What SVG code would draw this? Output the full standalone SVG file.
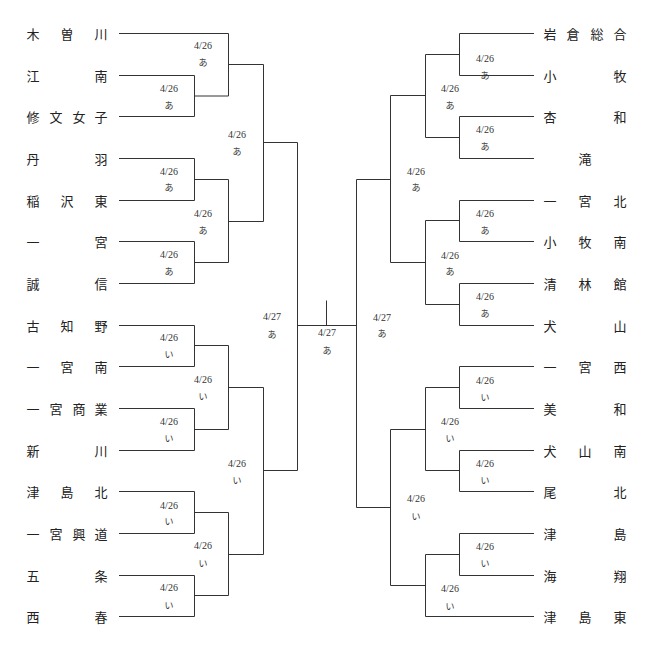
<svg xmlns="http://www.w3.org/2000/svg" width="654" height="651" viewBox="0 0 654 651">
<style>
.ln{fill:none;stroke:#333;stroke-width:1}
.t{font-family:"Noto Sans CJK JP","Liberation Serif",serif;font-size:13px;fill:#222;text-anchor:middle;dominant-baseline:central}
.d{font-family:"Liberation Serif",serif;font-size:10px;fill:#333;text-anchor:middle;dominant-baseline:central}
.k{font-family:"Noto Sans CJK JP",sans-serif;font-size:9px;fill:#333;text-anchor:middle;dominant-baseline:central}
</style>
<rect width="654" height="651" fill="#fff"/>
<g id="connectors" class="ln">
<path d="M119 33.5H228.5"/>
<path d="M119 75.5H194.5V116.5H119M194.5 96H228.5"/>
<path d="M228.5 33.5V96M228.5 64.5H263.5"/>
<path d="M119 158.5H194.5V200.5H119M194.5 179.5H228.5"/>
<path d="M119 241.5H194.5V283.5H119M194.5 262.5H228.5"/>
<path d="M228.5 179.5V262.5M228.5 221.5H263.5"/>
<path d="M263.5 64.5V221.5M263.5 142.5H297.5"/>
<path d="M119 325.5H194.5V366.5H119M194.5 345.5H228.5"/>
<path d="M119 408.5H194.5V450.5H119M194.5 429.5H228.5"/>
<path d="M228.5 345.5V429.5M228.5 387.5H263.5"/>
<path d="M119 491.5H194.5V533.5H119M194.5 512.5H228.5"/>
<path d="M119 575.5H194.5V616.5H119M194.5 595.5H228.5"/>
<path d="M228.5 512.5V595.5M228.5 554.5H263.5"/>
<path d="M263.5 387.5V554.5M263.5 470.5H297.5"/>
<path d="M297.5 142.5V470.5"/>
<path d="M297.5 325.5H356.5M326.5 300.5V325.5"/>
<path d="M534 33.5H459.5V75.5H534M459.5 54.5H425.5"/>
<path d="M534 116.5H459.5V158.5H534M459.5 137.5H425.5"/>
<path d="M425.5 54.5V137.5M425.5 95.5H390.5"/>
<path d="M534 200.5H459.5V241.5H534M459.5 220.5H425.5"/>
<path d="M534 283.5H459.5V325.5H534M459.5 304.5H425.5"/>
<path d="M425.5 220.5V304.5M425.5 262.5H390.5"/>
<path d="M390.5 95.5V262.5M390.5 179.5H356.5"/>
<path d="M534 366.5H459.5V408.5H534M459.5 387.5H425.5"/>
<path d="M534 450.5H459.5V491.5H534M459.5 470.5H425.5"/>
<path d="M425.5 387.5V470.5M425.5 429.5H390.5"/>
<path d="M534 533.5H459.5V575.5H534M459.5 554.5H425.5"/>
<path d="M534 616.5H425.5"/>
<path d="M425.5 554.5V616.5M425.5 585.5H390.5"/>
<path d="M390.5 429.5V585.5M390.5 507.5H356.5"/>
<path d="M356.5 179.5V507.5"/>
</g>
<g id="left-teams">
<g id="L01"><text class="t" x="33 67 101" y="33.5">木曽川</text></g>
<g id="L02"><text class="t" x="33 101" y="75.5">江南</text></g>
<g id="L03"><text class="t" x="33 56 79 101" y="116.5">修文女子</text></g>
<g id="L04"><text class="t" x="33 101" y="158.5">丹羽</text></g>
<g id="L05"><text class="t" x="33 67 101" y="200.5">稲沢東</text></g>
<g id="L06"><text class="t" x="33 101" y="241.5">一宮</text></g>
<g id="L07"><text class="t" x="33 101" y="283.5">誠信</text></g>
<g id="L08"><text class="t" x="33 67 101" y="325.5">古知野</text></g>
<g id="L09"><text class="t" x="33 67 101" y="366.5">一宮南</text></g>
<g id="L10"><text class="t" x="33 56 79 101" y="408.5">一宮商業</text></g>
<g id="L11"><text class="t" x="33 101" y="450.5">新川</text></g>
<g id="L12"><text class="t" x="33 67 101" y="491.5">津島北</text></g>
<g id="L13"><text class="t" x="33 56 79 101" y="533.5">一宮興道</text></g>
<g id="L14"><text class="t" x="33 101" y="575.5">五条</text></g>
<g id="L15"><text class="t" x="33 101" y="616.5">西春</text></g>
</g>
<g id="right-teams">
<g id="R01"><text class="t" x="550 573 597 620" y="33.5">岩倉総合</text></g>
<g id="R02"><text class="t" x="550 620" y="75.5">小牧</text></g>
<g id="R03"><text class="t" x="550 620" y="116.5">杏和</text></g>
<g id="R04"><text class="t" x="585" y="158.5">滝</text></g>
<g id="R05"><text class="t" x="550 585 620" y="200.5">一宮北</text></g>
<g id="R06"><text class="t" x="550 585 620" y="241.5">小牧南</text></g>
<g id="R07"><text class="t" x="550 585 620" y="283.5">清林館</text></g>
<g id="R08"><text class="t" x="550 620" y="325.5">犬山</text></g>
<g id="R09"><text class="t" x="550 585 620" y="366.5">一宮西</text></g>
<g id="R10"><text class="t" x="550 620" y="408.5">美和</text></g>
<g id="R11"><text class="t" x="550 585 620" y="450.5">犬山南</text></g>
<g id="R12"><text class="t" x="550 620" y="491.5">尾北</text></g>
<g id="R13"><text class="t" x="550 620" y="533.5">津島</text></g>
<g id="R14"><text class="t" x="550 620" y="575.5">海翔</text></g>
<g id="R15"><text class="t" x="550 585 620" y="616.5">津島東</text></g>
</g>
<g id="match-labels">
<text class="d" x="203" y="45">4/26</text><text class="k" x="203" y="62">あ</text>
<text class="d" x="169" y="88">4/26</text><text class="k" x="169" y="105">あ</text>
<text class="d" x="237" y="134">4/26</text><text class="k" x="237" y="151">あ</text>
<text class="d" x="169" y="171">4/26</text><text class="k" x="169" y="187">あ</text>
<text class="d" x="203" y="213">4/26</text><text class="k" x="203" y="230">あ</text>
<text class="d" x="169" y="254">4/26</text><text class="k" x="169" y="271">あ</text>
<text class="d" x="272" y="316">4/27</text><text class="k" x="272" y="334">あ</text>
<text class="d" x="169" y="337">4/26</text><text class="k" x="169" y="354">い</text>
<text class="d" x="203" y="379">4/26</text><text class="k" x="203" y="396">い</text>
<text class="d" x="169" y="421">4/26</text><text class="k" x="169" y="438">い</text>
<text class="d" x="237" y="463">4/26</text><text class="k" x="237" y="480">い</text>
<text class="d" x="169" y="505">4/26</text><text class="k" x="169" y="521">い</text>
<text class="d" x="203" y="545">4/26</text><text class="k" x="203" y="563">い</text>
<text class="d" x="169" y="587">4/26</text><text class="k" x="169" y="605">い</text>
<text class="d" x="327" y="332">4/27</text><text class="k" x="327" y="350">あ</text>
<text class="d" x="382" y="317">4/27</text><text class="k" x="382" y="333">あ</text>
<text class="d" x="485" y="58">4/26</text><text class="k" x="485" y="75">あ</text>
<text class="d" x="450" y="88">4/26</text><text class="k" x="450" y="105">あ</text>
<text class="d" x="485" y="129">4/26</text><text class="k" x="485" y="146">あ</text>
<text class="d" x="416" y="171">4/26</text><text class="k" x="416" y="187">あ</text>
<text class="d" x="485" y="213">4/26</text><text class="k" x="485" y="230">あ</text>
<text class="d" x="450" y="255">4/26</text><text class="k" x="450" y="271">あ</text>
<text class="d" x="485" y="296">4/26</text><text class="k" x="485" y="313">あ</text>
<text class="d" x="485" y="380">4/26</text><text class="k" x="485" y="397">い</text>
<text class="d" x="450" y="421">4/26</text><text class="k" x="450" y="438">い</text>
<text class="d" x="485" y="463">4/26</text><text class="k" x="485" y="480">い</text>
<text class="d" x="416" y="498">4/26</text><text class="k" x="416" y="516">い</text>
<text class="d" x="485" y="546">4/26</text><text class="k" x="485" y="563">い</text>
<text class="d" x="450" y="588">4/26</text><text class="k" x="450" y="606">い</text>
</g>
</svg>
